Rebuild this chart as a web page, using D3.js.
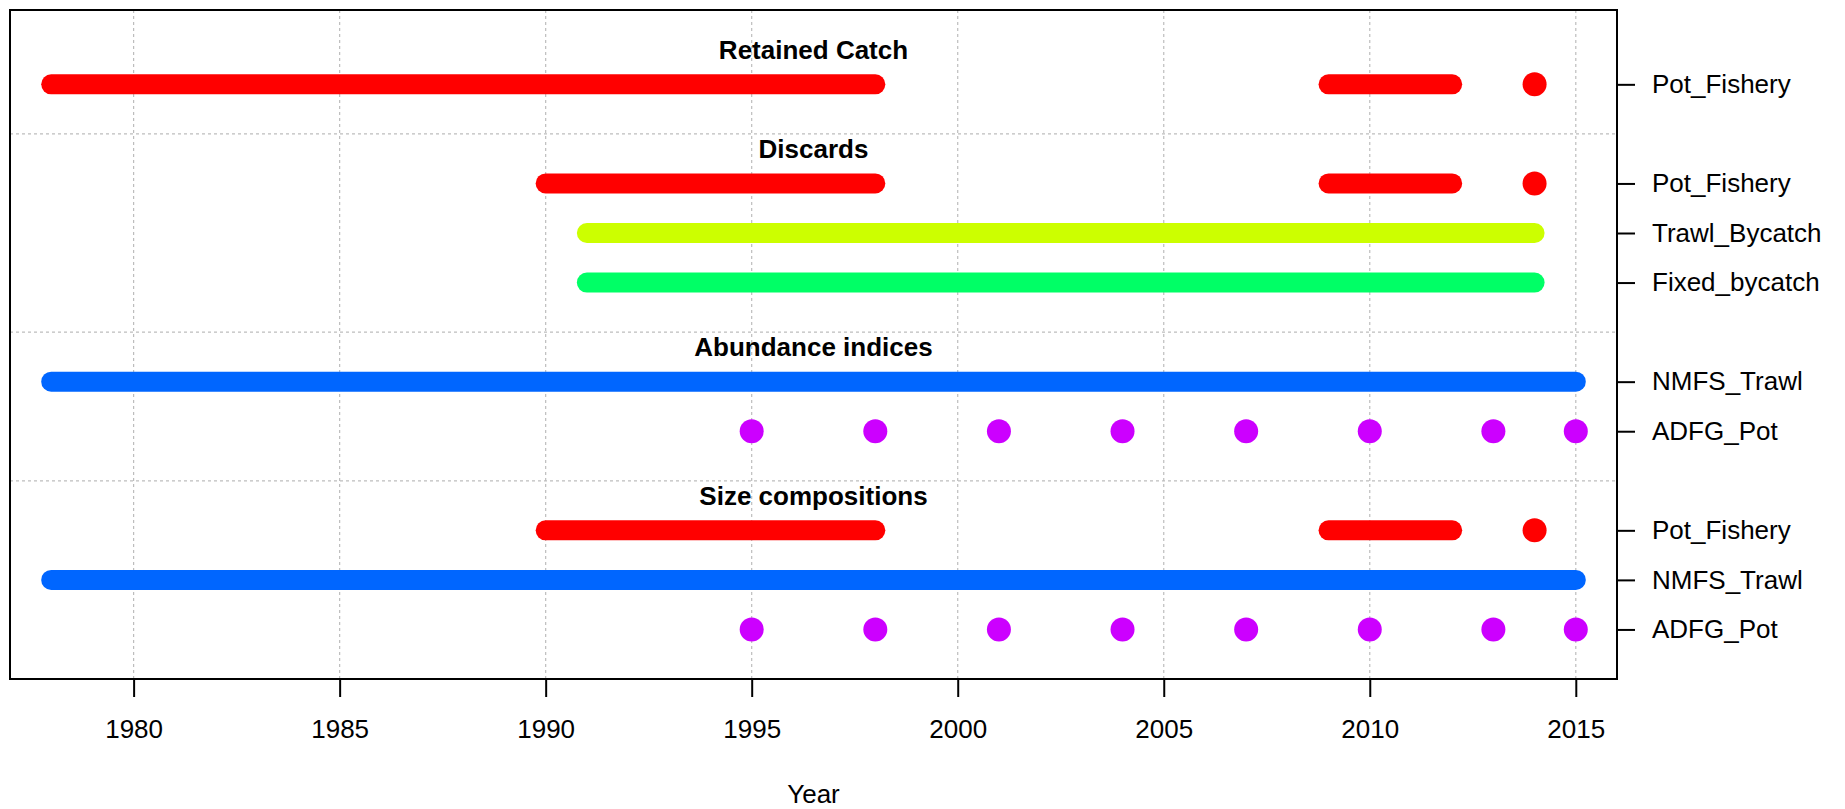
<!DOCTYPE html>
<html>
<head>
<meta charset="utf-8">
<script src="https://cdn.jsdelivr.net/npm/d3@7"></script>
<style>
  body { margin: 0; background: #fff; }
  text { font-family: "Liberation Sans", Arial, Helvetica, sans-serif; }
</style>
</head>
<body>
<svg id="chart" width="1845" height="809"></svg>
<script>
// groups of data sources, top to bottom
var groupTitles = ["Retained Catch", "Discards", "Abundance indices", "Size compositions"]

// one row per data series
var seriesGroup = [0, 1, 1, 1, 2, 2, 3, 3, 3]
var seriesNames = ["Pot_Fishery", "Pot_Fishery", "Trawl_Bycatch", "Fixed_bycatch",
                   "NMFS_Trawl", "ADFG_Pot", "Pot_Fishery", "NMFS_Trawl", "ADFG_Pot"]

var fleetColors = {
  "Pot_Fishery": "#FF0000",
  "Trawl_Bycatch": "#CCFF00",
  "Fixed_bycatch": "#00FF66",
  "NMFS_Trawl": "#0066FF",
  "ADFG_Pot": "#CC00FF"
}

var retainedPot = [1978, 1979, 1980, 1981, 1982, 1983, 1984, 1985, 1986, 1987, 1988,
                   1989, 1990, 1991, 1992, 1993, 1994, 1995, 1996, 1997, 1998,
                   2009, 2010, 2011, 2012, 2014]
var discardPot = [1990, 1991, 1992, 1993, 1994, 1995, 1996, 1997, 1998,
                  2009, 2010, 2011, 2012, 2014]
var trawlBycatch = [1991, 1992, 1993, 1994, 1995, 1996, 1997, 1998, 1999, 2000, 2001, 2002,
                    2003, 2004, 2005, 2006, 2007, 2008, 2009, 2010, 2011, 2012, 2013, 2014]
var fixedBycatch = [1991, 1992, 1993, 1994, 1995, 1996, 1997, 1998, 1999, 2000, 2001, 2002,
                    2003, 2004, 2005, 2006, 2007, 2008, 2009, 2010, 2011, 2012, 2013, 2014]
var nmfsIndex = [1978, 1979, 1980, 1981, 1982, 1983, 1984, 1985, 1986, 1987, 1988, 1989,
                 1990, 1991, 1992, 1993, 1994, 1995, 1996, 1997, 1998, 1999, 2000, 2001,
                 2002, 2003, 2004, 2005, 2006, 2007, 2008, 2009, 2010, 2011, 2012, 2013,
                 2014, 2015]
var adfgIndex = [1995, 1998, 2001, 2004, 2007, 2010, 2013, 2015]
var sizePot = [1990, 1991, 1992, 1993, 1994, 1995, 1996, 1997, 1998,
               2009, 2010, 2011, 2012, 2014]
var sizeNmfs = [1978, 1979, 1980, 1981, 1982, 1983, 1984, 1985, 1986, 1987, 1988, 1989,
                1990, 1991, 1992, 1993, 1994, 1995, 1996, 1997, 1998, 1999, 2000, 2001,
                2002, 2003, 2004, 2005, 2006, 2007, 2008, 2009, 2010, 2011, 2012, 2013,
                2014, 2015]
var sizeAdfg = [1995, 1998, 2001, 2004, 2007, 2010, 2013, 2015]

var seriesYears = [retainedPot, discardPot, trawlBycatch, fixedBycatch,
                   nmfsIndex, adfgIndex, sizePot, sizeNmfs, sizeAdfg]

var yearTicks = [1980, 1985, 1990, 1995, 2000, 2005, 2010, 2015]

// row index for each series, with an empty row between groups
var rowPos = []
var groupFirst = []
var groupBreaks = []
var row = 0
for (var i = 0; i < seriesGroup.length; i++) {
  if (i > 0 && seriesGroup[i] != seriesGroup[i - 1]) {
    groupBreaks.push(row)
    row += 1
  }
  if (groupFirst[seriesGroup[i]] === undefined) groupFirst[seriesGroup[i]] = row
  rowPos.push(row)
  row += 1
}

// consecutive years -> runs
function runsOf(years) {
  var runs = []
  var cur = [years[0], years[0]]
  for (var i = 1; i < years.length; i++) {
    if (years[i] == cur[1] + 1) {
      cur[1] = years[i]
    } else {
      runs.push(cur)
      cur = [years[i], years[i]]
    }
  }
  runs.push(cur)
  return runs
}

var plotLeft = 10, plotRight = 1617, plotTop = 10, plotBottom = 679

var x = d3.scaleLinear().domain([1977, 2016]).range([plotLeft, plotRight])
var y = d3.scaleLinear().domain([-1.5, 12]).range([plotTop, plotBottom])

var svg = d3.select("#chart")

// grid
var grid = svg.append("g")
  .attr("stroke", "#bdbdbd")
  .attr("stroke-width", 1.2)
  .attr("stroke-dasharray", "3,3")

grid.selectAll("line.v")
  .data(yearTicks)
  .enter().append("line")
  .attr("class", "v")
  .attr("x1", function(d) { return x(d) })
  .attr("x2", function(d) { return x(d) })
  .attr("y1", plotTop)
  .attr("y2", plotBottom)

grid.selectAll("line.h")
  .data(groupBreaks)
  .enter().append("line")
  .attr("class", "h")
  .attr("x1", plotLeft)
  .attr("x2", plotRight)
  .attr("y1", function(d) { return y(d) })
  .attr("y2", function(d) { return y(d) })

// series
var marks = svg.append("g")
for (var i = 0; i < seriesYears.length; i++) {
  var color = fleetColors[seriesNames[i]]
  var runs = runsOf(seriesYears[i])
  var g = marks.append("g")
  g.selectAll("line")
    .data(runs.filter(function(r) { return r[1] > r[0] }))
    .enter().append("line")
    .attr("x1", function(r) { return x(r[0]) })
    .attr("x2", function(r) { return x(r[1]) })
    .attr("y1", y(rowPos[i]))
    .attr("y2", y(rowPos[i]))
    .attr("stroke", color)
    .attr("stroke-width", 20)
    .attr("stroke-linecap", "round")
  g.selectAll("circle")
    .data(runs.filter(function(r) { return r[1] == r[0] }))
    .enter().append("circle")
    .attr("cx", function(r) { return x(r[0]) })
    .attr("cy", y(rowPos[i]))
    .attr("r", 12)
    .attr("fill", color)
}

// group titles
var allYears = d3.merge(seriesYears)
var midYear = (d3.min(allYears) + d3.max(allYears)) / 2
svg.append("g").selectAll("text")
  .data(groupTitles)
  .enter().append("text")
  .attr("x", x(midYear))
  .attr("y", function(d, i) { return y(groupFirst[i] - 0.7) })
  .attr("dy", "0.36em")
  .attr("text-anchor", "middle")
  .attr("font-size", 26)
  .attr("font-weight", "bold")
  .text(function(d) { return d })

// frame
svg.append("rect")
  .attr("x", plotLeft)
  .attr("y", plotTop)
  .attr("width", plotRight - plotLeft)
  .attr("height", plotBottom - plotTop)
  .attr("fill", "none")
  .attr("stroke", "#000")
  .attr("stroke-width", 2)

// x axis
var xAxis = d3.axisBottom(x)
  .tickValues(yearTicks)
  .tickFormat(d3.format("d"))
  .tickSize(18)
  .tickPadding(23)

var gx = svg.append("g")
  .attr("transform", "translate(0," + plotBottom + ")")
  .call(xAxis)
gx.attr("font-family", null).attr("font-size", null)
gx.select(".domain").remove()
gx.selectAll(".tick line").attr("stroke-width", 2)
gx.selectAll("text").attr("font-size", 26).attr("fill", "#000")

// right axis with series names
var yAxis = d3.axisRight(y)
  .tickValues(rowPos)
  .tickFormat(function(d) { return seriesNames[rowPos.indexOf(d)] })
  .tickSize(18)
  .tickPadding(17)

var gy = svg.append("g")
  .attr("transform", "translate(" + plotRight + ",0)")
  .call(yAxis)
gy.attr("font-family", null).attr("font-size", null)
gy.select(".domain").remove()
gy.selectAll(".tick line").attr("stroke-width", 2)
gy.selectAll("text").attr("font-size", 26).attr("fill", "#000")

// axis title
svg.append("text")
  .attr("x", (plotLeft + plotRight) / 2)
  .attr("y", 803)
  .attr("text-anchor", "middle")
  .attr("font-size", 26)
  .text("Year")
</script>
</body>
</html>
